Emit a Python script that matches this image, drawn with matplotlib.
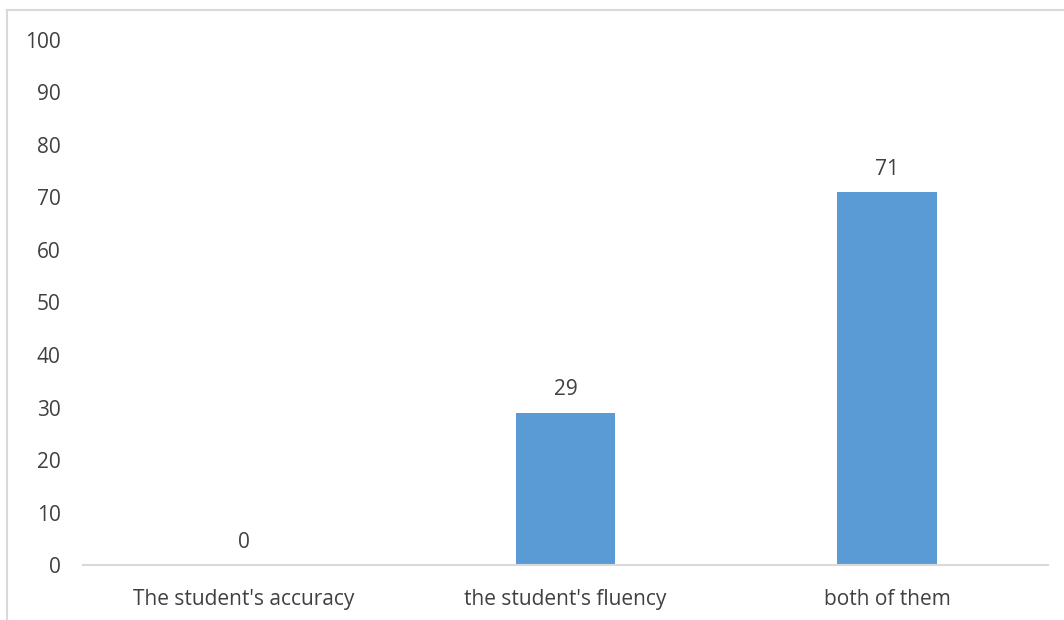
import matplotlib.pyplot as plt
from matplotlib.lines import Line2D

categories = ["The student's accuracy", "the student's fluency", "both of them"]
values = [0, 29, 71]
y_ticks = [0, 10, 20, 30, 40, 50, 60, 70, 80, 90, 100]

text_color = "#404040"
bar_color = "#5B9BD5"
line_color = "#D9D9D9"

fig = plt.figure(figsize=(10.64, 6.2), dpi=100)
ax = fig.add_axes([0.078, 0.0887, 0.907, 0.8468])

x = range(len(categories))
bars = ax.bar(x, values, width=0.31, color=bar_color)

# value labels above each bar
for xi, v in zip(x, values):
    ax.annotate(str(v), (xi, v), xytext=(0, 16.5), textcoords="offset points",
                ha="center", va="center", fontsize=15, color=text_color,
                family="Open Sans")

ax.set_xlim(-0.5, len(categories) - 0.5)
ax.set_ylim(0, 100)
ax.set_yticks(y_ticks)
ax.set_xticks(list(x))
ax.set_xticklabels(categories)

for side in ["top", "right", "left"]:
    ax.spines[side].set_visible(False)
ax.spines["bottom"].set_color(line_color)
ax.spines["bottom"].set_linewidth(1.5)

ax.tick_params(axis="both", length=0, labelsize=15, colors=text_color)
ax.tick_params(axis="y", pad=16)
ax.tick_params(axis="x", pad=17)
for lbl in ax.get_xticklabels() + ax.get_yticklabels():
    lbl.set_family("Open Sans")

# chart area border (top and left edge)
fig.add_artist(Line2D([7 / 1064, 1063 / 1064], [1 - 10 / 620, 1 - 10 / 620],
                      transform=fig.transFigure, color=line_color, lw=1.5))
fig.add_artist(Line2D([7 / 1064, 7 / 1064], [0, 1 - 10 / 620],
                      transform=fig.transFigure, color=line_color, lw=1.5))

fig.savefig("out.png", dpi=100)
